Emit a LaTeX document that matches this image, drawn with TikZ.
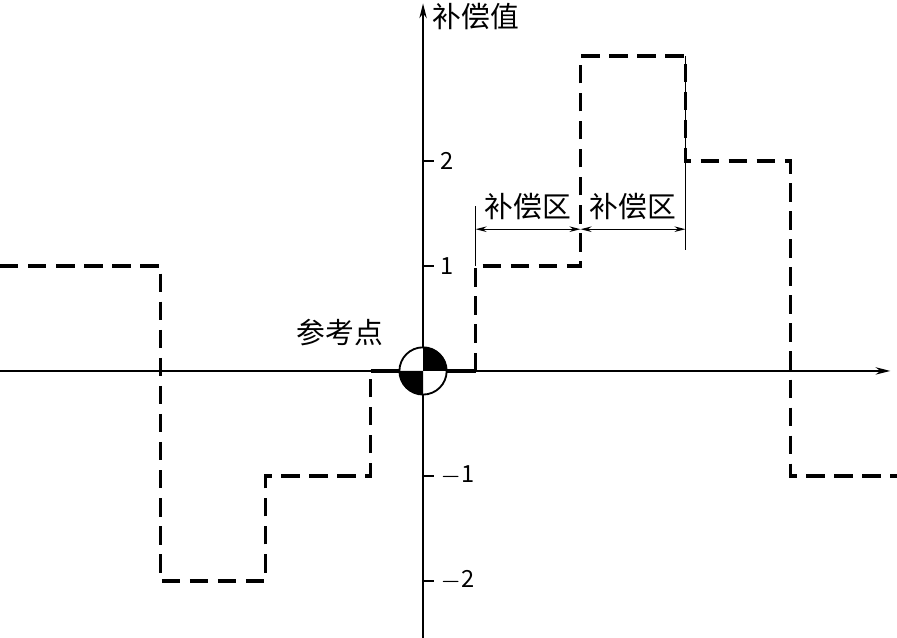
\documentclass[tikz,border=0pt]{standalone}
\usepackage{fontspec}
\setmainfont{Noto Sans CJK SC}
\usetikzlibrary{arrows.meta}
\tikzset{
  axis/.style={line width=0.35pt,-{Stealth[length=4pt,width=2pt]}},
  stepline/.style={line width=0.9pt,dash pattern=on 5pt off 2.6pt},
  dimline/.style={line width=0.35pt},
  lbl/.style={font=\fontsize{6.4}{7}\selectfont,inner sep=1pt},
  cjk/.style={font=\fontsize{7.8}{9}\selectfont,inner sep=1pt}
}
\begin{document}
\begin{tikzpicture}
	\useasboundingbox (-4.029,-2.543) rectangle (4.514,3.533);
	% axes
	\coordinate (xs) at (-4.029,0);
	\coordinate (xe) at (4.45,0);
	\coordinate (ys) at (0,-2.543);
	\coordinate (ye) at (0,3.5);
	\draw[axis] (xs) -- (xe);
	\draw[axis] (ys) -- (ye);
	\node[cjk,anchor=west] (yl) at (0.05,3.38) {补偿值};
	% ticks
	\foreach \v/\t in {2/2,1/1,-1/$-$1,-2/$-$2}{
		\draw[dimline] (0,\v) -- (0.1,\v);
		\node[lbl,anchor=west] (t\v) at (0.12,\v) {\t};
	}
	% step curve
	\draw[stepline] (-4.029,1) -| (-2.5,-2) -| (-1.5,-1) -| (-0.5,0);
	\draw[line width=0.9pt] (-0.5,0) -- (0.5,0);
	\draw[stepline] (0.5,0) |- (1.5,1) |- (2.5,3) |- (3.5,2) |- (4.514,-1);
	% compensation zones
	\coordinate (z0) at (0.5,1.57);
	\coordinate (z2) at (2.5,1.15);
	\draw[dimline] (0.5,1) -- (z0);
	\draw[dimline] (2.5,3) -- (z2);
	\coordinate (a0) at (0.5,1.35);
	\coordinate (a1) at (1.5,1.35);
	\coordinate (a2) at (2.5,1.35);
	\draw[dimline,{Stealth[length=3pt,width=1.5pt]}-{Stealth[length=3pt,width=1.5pt]}] (a0) -- (a1);
	\draw[dimline,{Stealth[length=3pt,width=1.5pt]}-{Stealth[length=3pt,width=1.5pt]}] (a1) -- (a2);
	\node[cjk,anchor=south] (c1) at (1,1.4) {补偿区};
	\node[cjk,anchor=south] (c2) at (2,1.4) {补偿区};
	% reference point
	\node[cjk] (rp) at (-0.79,0.37) {参考点};
	\fill[white] (0,0) circle (0.225);
	\fill (0,0) -- (0.225,0) arc (0:90:0.225) -- cycle;
	\fill (0,0) -- (-0.225,0) arc (180:270:0.225) -- cycle;
	\draw[line width=0.5pt] (0,0) circle (0.225);
\end{tikzpicture}
\end{document}
